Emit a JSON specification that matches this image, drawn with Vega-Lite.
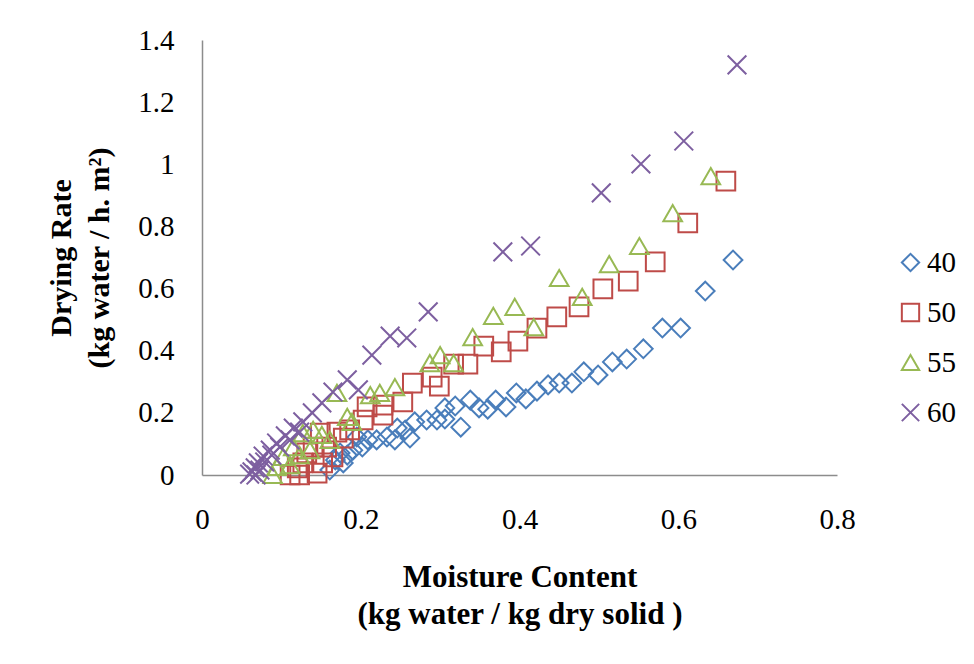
{
  "$schema": "https://vega.github.io/schema/vega-lite/v6.json",
  "width": 635,
  "height": 435,
  "autosize": {"type": "none"},
  "padding": {"left": 202, "top": 40, "right": 137, "bottom": 189},
  "background": "white",
  "config": {
    "view": {"stroke": null},
    "font": "Liberation Serif",
    "axis": {
      "labelFont": "Liberation Serif",
      "labelFontSize": 29,
      "labelColor": "black",
      "titleFont": "Liberation Serif",
      "titleFontSize": 31,
      "titleFontWeight": "bold",
      "titleColor": "black",
      "domainColor": "#8c8c8c",
      "domainWidth": 1.5,
      "ticks": false,
      "grid": false
    },
    "legend": {
      "labelFont": "Liberation Serif",
      "labelFontSize": 29,
      "labelColor": "black"
    }
  },
  "data": {
    "values": [
      {"t": "40", "x": 0.669, "y": 0.692},
      {"t": "40", "x": 0.634, "y": 0.592},
      {"t": "40", "x": 0.603, "y": 0.473},
      {"t": "40", "x": 0.580, "y": 0.473},
      {"t": "40", "x": 0.556, "y": 0.406},
      {"t": "40", "x": 0.535, "y": 0.373},
      {"t": "40", "x": 0.517, "y": 0.364},
      {"t": "40", "x": 0.499, "y": 0.322},
      {"t": "40", "x": 0.481, "y": 0.332},
      {"t": "40", "x": 0.466, "y": 0.296},
      {"t": "40", "x": 0.450, "y": 0.296},
      {"t": "40", "x": 0.436, "y": 0.290},
      {"t": "40", "x": 0.422, "y": 0.270},
      {"t": "40", "x": 0.408, "y": 0.245},
      {"t": "40", "x": 0.396, "y": 0.264},
      {"t": "40", "x": 0.383, "y": 0.219},
      {"t": "40", "x": 0.370, "y": 0.241},
      {"t": "40", "x": 0.360, "y": 0.212},
      {"t": "40", "x": 0.349, "y": 0.216},
      {"t": "40", "x": 0.338, "y": 0.241},
      {"t": "40", "x": 0.326, "y": 0.154},
      {"t": "40", "x": 0.319, "y": 0.222},
      {"t": "40", "x": 0.306, "y": 0.180},
      {"t": "40", "x": 0.296, "y": 0.177},
      {"t": "40", "x": 0.306, "y": 0.216},
      {"t": "40", "x": 0.283, "y": 0.177},
      {"t": "40", "x": 0.268, "y": 0.171},
      {"t": "40", "x": 0.256, "y": 0.145},
      {"t": "40", "x": 0.246, "y": 0.151},
      {"t": "40", "x": 0.233, "y": 0.122},
      {"t": "40", "x": 0.220, "y": 0.113},
      {"t": "40", "x": 0.209, "y": 0.113},
      {"t": "40", "x": 0.202, "y": 0.090},
      {"t": "40", "x": 0.190, "y": 0.080},
      {"t": "40", "x": 0.183, "y": 0.064},
      {"t": "40", "x": 0.174, "y": 0.071},
      {"t": "40", "x": 0.168, "y": 0.048},
      {"t": "40", "x": 0.195, "y": 0.122},
      {"t": "40", "x": 0.262, "y": 0.119},
      {"t": "40", "x": 0.243, "y": 0.113},
      {"t": "40", "x": 0.161, "y": 0.016},
      {"t": "40", "x": 0.178, "y": 0.039},
      {"t": "50", "x": 0.660, "y": 0.946},
      {"t": "50", "x": 0.612, "y": 0.811},
      {"t": "50", "x": 0.571, "y": 0.686},
      {"t": "50", "x": 0.537, "y": 0.624},
      {"t": "50", "x": 0.505, "y": 0.599},
      {"t": "50", "x": 0.475, "y": 0.541},
      {"t": "50", "x": 0.447, "y": 0.509},
      {"t": "50", "x": 0.422, "y": 0.473},
      {"t": "50", "x": 0.398, "y": 0.431},
      {"t": "50", "x": 0.377, "y": 0.396},
      {"t": "50", "x": 0.355, "y": 0.415},
      {"t": "50", "x": 0.335, "y": 0.357},
      {"t": "50", "x": 0.317, "y": 0.357},
      {"t": "50", "x": 0.299, "y": 0.286},
      {"t": "50", "x": 0.290, "y": 0.315},
      {"t": "50", "x": 0.265, "y": 0.296},
      {"t": "50", "x": 0.253, "y": 0.235},
      {"t": "50", "x": 0.228, "y": 0.193},
      {"t": "50", "x": 0.228, "y": 0.225},
      {"t": "50", "x": 0.208, "y": 0.219},
      {"t": "50", "x": 0.203, "y": 0.177},
      {"t": "50", "x": 0.186, "y": 0.145},
      {"t": "50", "x": 0.170, "y": 0.138},
      {"t": "50", "x": 0.178, "y": 0.119},
      {"t": "50", "x": 0.165, "y": 0.058},
      {"t": "50", "x": 0.149, "y": 0.135},
      {"t": "50", "x": 0.157, "y": 0.090},
      {"t": "50", "x": 0.140, "y": 0.090},
      {"t": "50", "x": 0.132, "y": 0.071},
      {"t": "50", "x": 0.127, "y": 0.039},
      {"t": "50", "x": 0.120, "y": 0.023},
      {"t": "50", "x": 0.111, "y": 0.000},
      {"t": "50", "x": 0.152, "y": 0.039},
      {"t": "50", "x": 0.145, "y": 0.006},
      {"t": "50", "x": 0.123, "y": 0.000},
      {"t": "55", "x": 0.641, "y": 0.962},
      {"t": "55", "x": 0.593, "y": 0.843},
      {"t": "55", "x": 0.551, "y": 0.737},
      {"t": "55", "x": 0.513, "y": 0.679},
      {"t": "55", "x": 0.450, "y": 0.634},
      {"t": "55", "x": 0.479, "y": 0.573},
      {"t": "55", "x": 0.394, "y": 0.541},
      {"t": "55", "x": 0.367, "y": 0.512},
      {"t": "55", "x": 0.418, "y": 0.476},
      {"t": "55", "x": 0.341, "y": 0.444},
      {"t": "55", "x": 0.300, "y": 0.386},
      {"t": "55", "x": 0.317, "y": 0.360},
      {"t": "55", "x": 0.287, "y": 0.360},
      {"t": "55", "x": 0.243, "y": 0.283},
      {"t": "55", "x": 0.224, "y": 0.264},
      {"t": "55", "x": 0.212, "y": 0.257},
      {"t": "55", "x": 0.170, "y": 0.264},
      {"t": "55", "x": 0.183, "y": 0.187},
      {"t": "55", "x": 0.189, "y": 0.171},
      {"t": "55", "x": 0.161, "y": 0.113},
      {"t": "55", "x": 0.151, "y": 0.129},
      {"t": "55", "x": 0.140, "y": 0.145},
      {"t": "55", "x": 0.127, "y": 0.135},
      {"t": "55", "x": 0.115, "y": 0.090},
      {"t": "55", "x": 0.102, "y": 0.058},
      {"t": "55", "x": 0.094, "y": 0.026},
      {"t": "55", "x": 0.089, "y": 0.000},
      {"t": "55", "x": 0.123, "y": 0.064},
      {"t": "55", "x": 0.136, "y": 0.080},
      {"t": "55", "x": 0.111, "y": 0.032},
      {"t": "60", "x": 0.674, "y": 1.320},
      {"t": "60", "x": 0.607, "y": 1.075},
      {"t": "60", "x": 0.553, "y": 1.001},
      {"t": "60", "x": 0.503, "y": 0.908},
      {"t": "60", "x": 0.414, "y": 0.737},
      {"t": "60", "x": 0.379, "y": 0.718},
      {"t": "60", "x": 0.285, "y": 0.525},
      {"t": "60", "x": 0.258, "y": 0.441},
      {"t": "60", "x": 0.237, "y": 0.447},
      {"t": "60", "x": 0.214, "y": 0.386},
      {"t": "60", "x": 0.183, "y": 0.306},
      {"t": "60", "x": 0.197, "y": 0.274},
      {"t": "60", "x": 0.165, "y": 0.267},
      {"t": "60", "x": 0.151, "y": 0.232},
      {"t": "60", "x": 0.139, "y": 0.200},
      {"t": "60", "x": 0.127, "y": 0.171},
      {"t": "60", "x": 0.115, "y": 0.151},
      {"t": "60", "x": 0.105, "y": 0.126},
      {"t": "60", "x": 0.094, "y": 0.103},
      {"t": "60", "x": 0.086, "y": 0.080},
      {"t": "60", "x": 0.077, "y": 0.061},
      {"t": "60", "x": 0.071, "y": 0.039},
      {"t": "60", "x": 0.067, "y": 0.023},
      {"t": "60", "x": 0.063, "y": 0.010},
      {"t": "60", "x": 0.060, "y": 0.003},
      {"t": "60", "x": 0.073, "y": 0.016},
      {"t": "60", "x": 0.079, "y": 0.042},
      {"t": "60", "x": 0.088, "y": 0.064},
      {"t": "60", "x": 0.098, "y": 0.090},
      {"t": "60", "x": 0.111, "y": 0.113},
      {"t": "60", "x": 0.123, "y": 0.138},
      {"t": "60", "x": 0.068, "y": 0.000}
    ]
  },
  "mark": {"type": "point", "filled": false, "strokeWidth": 2, "size": 350, "opacity": 1},
  "encoding": {
    "x": {
      "field": "x",
      "type": "quantitative",
      "scale": {"domain": [0, 0.8], "nice": false, "zero": true},
      "axis": {
        "values": [0, 0.2, 0.4, 0.6, 0.8],
        "format": "~g",
        "labelPadding": 30,
        "labelFlush": false,
        "title": ["Moisture Content", "(kg water / kg dry solid )"],
        "titleLineHeight": 37,
        "titlePadding": 28
      }
    },
    "y": {
      "field": "y",
      "type": "quantitative",
      "scale": {"domain": [0, 1.4], "nice": false, "zero": true},
      "axis": {
        "values": [0, 0.2, 0.4, 0.6, 0.8, 1, 1.2, 1.4],
        "format": "~g",
        "labelPadding": 28,
        "labelFlush": false,
        "title": ["Drying Rate", "(kg water / h. m²)"],
        "titleFontSize": 30,
        "titleLineHeight": 38,
        "titlePadding": 23
      }
    },
    "color": {
      "field": "t",
      "type": "nominal",
      "scale": {
        "domain": ["40", "50", "55", "60"],
        "range": ["#4a7ebb", "#be4b48", "#98b954", "#7d5fa0"]
      },
      "legend": {
        "title": null,
        "orient": "none",
        "legendX": 694,
        "legendY": 208,
        "symbolSize": 300,
        "symbolStrokeWidth": 2,
        "rowPadding": 20,
        "labelOffset": 2
      }
    },
    "shape": {
      "field": "t",
      "type": "nominal",
      "scale": {
        "domain": ["40", "50", "55", "60"],
        "range": ["diamond", "square", "triangle-up", "M-1,-1L1,1M1,-1L-1,1"]
      },
      "legend": null
    }
  }
}
